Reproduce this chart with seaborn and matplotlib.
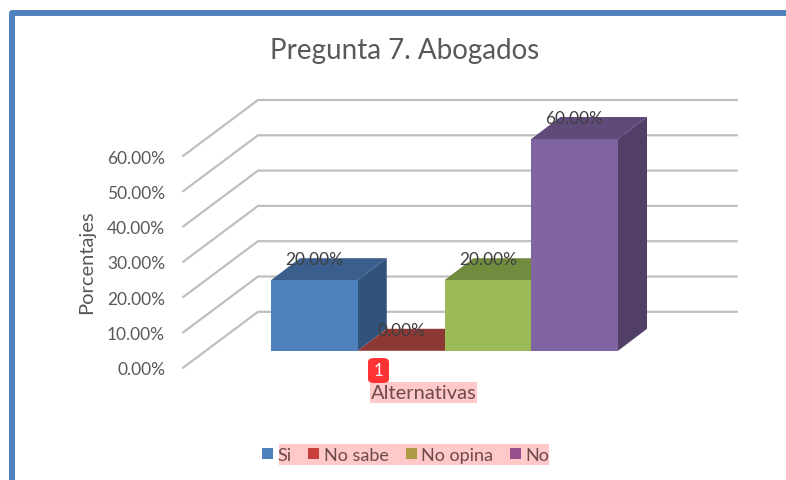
import matplotlib
matplotlib.use("Agg")
import matplotlib.pyplot as plt
from matplotlib.patches import Patch, Polygon, Rectangle, FancyBboxPatch
from matplotlib.transforms import ScaledTranslation
import pandas as pd
import seaborn as sns

# ---------------------------------------
# Data
# ---------------------------------------

categories = ["Si", "No sabe", "No opina", "No"]
values = [20, 0, 20, 60]
value_labels = ["20.00%", "0.00%", "20.00%", "60.00%"]
y_ticks = [0, 10, 20, 30, 40, 50, 60]
y_tick_labels = ["0.00%", "10.00%", "20.00%", "30.00%", "40.00%", "50.00%", "60.00%"]

front_colors = ["#4F81BD", "#943634", "#9BBB59", "#8064A2"]
top_colors = ["#3A5F8C", "#8E3835", "#728C3F", "#5F4A7A"]
side_colors = ["#30527B", "#7A2E2C", "#5F7535", "#523F68"]
legend_colors = ["#4F81BD", "#C8403C", "#AD9A45", "#974F8C"]

W, H = 786, 481
TEXT = "#595959"
GRID = "#BFBFBF"

sns.set_theme(style="white")
plt.rcParams["font.family"] = ["Lato", "DejaVu Sans"]

fig = plt.figure(figsize=(W / 100, H / 100), dpi=100, facecolor="white")

# axes cover exactly the front faces of the bars
left, right, top, bottom = 271, 618, 140, 351.8
ax = fig.add_axes([left / W, 1 - bottom / H, (right - left) / W, (bottom - top) / H])
ax.patch.set_alpha(0)

df = pd.DataFrame({"cat": categories, "val": values})
sns.barplot(data=df, x="cat", y="val", hue="cat", palette=front_colors,
            width=1, saturation=1, legend=False, ax=ax)
ax.set_xlim(-0.5, 3.5)
ax.set_ylim(0, 60)
sns.despine(ax=ax, left=True, bottom=True)

px_x = 4 / (right - left)
px_y = 60 / (bottom - top)

# ---------------------------------------
# Walls
# ---------------------------------------

for t in y_ticks:
    yb = t + 39 * px_y
    yf = t - 17 * px_y
    xb0 = -0.5 - 13 * px_x
    xb1 = -0.5 + 466 * px_x
    xf = -0.5 - 88 * px_x
    ax.plot([xf, xb0, xb1], [yf, yb, yb], color=GRID, lw=1.6, zorder=0.5,
            clip_on=False, solid_joinstyle="miter")

# ---------------------------------------
# 3D faces
# ---------------------------------------

dx = 29 * px_x
dy = 22 * px_y
bars = list(ax.patches)
for i, bar in enumerate(bars):
    x0 = bar.get_x()
    x1 = x0 + bar.get_width()
    h = bar.get_height()
    z = 1 + i * 0.1
    bar.set_zorder(z + 0.05)
    bar.set_edgecolor("none")
    ax.add_patch(Polygon([(x0, h), (x1, h), (x1 + dx, h + dy), (x0 + dx, h + dy)],
                         fc=top_colors[i], ec="none", zorder=z, clip_on=False))
    ax.add_patch(Polygon([(x1, 0), (x1 + dx, dy), (x1 + dx, h + dy), (x1, h)],
                         fc=side_colors[i], ec="none", zorder=z, clip_on=False))
    ax.text(x0 + bar.get_width() / 2, h + 21 * px_y, value_labels[i], ha="center", va="center",
            fontsize=12.5, color="#404040", zorder=10, clip_on=False)

# ---------------------------------------
# Axis text
# ---------------------------------------

ax.set_yticks(y_ticks)
ax.set_yticklabels(y_tick_labels, fontsize=12.5, color=TEXT)
ax.tick_params(axis="y", length=0, pad=(left - 165) * 0.72)
tick_shift = ScaledTranslation(0, -17 / 100, fig.dpi_scale_trans)
for lab in ax.get_yticklabels():
    lab.set_transform(lab.get_transform() + tick_shift)
ax.set_xticks([])
ax.set_xlabel("")
ax.set_ylabel("")

fig.text(87 / W, 1 - 262 / H, "Porcentajes", rotation=90, ha="center", va="center",
         fontsize=14.5, color=TEXT)
fig.text(404.5 / W, 1 - 51 / H, "Pregunta 7. Abogados", ha="center", va="center",
         fontsize=20, color=TEXT)

# pink highlight and badge
fig.add_artist(Rectangle((370 / W, 1 - 404 / H), 107 / W, 21 / H, transform=fig.transFigure,
                         fc="#FFC9C9", ec="none"))
fig.text(424 / W, 1 - 393.5 / H, "Alternativas", ha="center", va="center",
         fontsize=14.5, color="#6E4A4A")
fig.add_artist(FancyBboxPatch((368 / W, 1 - 384 / H), 21 / W, 25 / H, transform=fig.transFigure,
                              boxstyle="round,pad=0,rounding_size=0.008", fc="#FF3333", ec="none"))
fig.text(378.5 / W, 1 - 371.5 / H, "1", ha="center", va="center", fontsize=12, color="white")

# ---------------------------------------
# Legend
# ---------------------------------------

fig.add_artist(Rectangle((279 / W, 1 - 465.5 / H), 270 / W, 21 / H, transform=fig.transFigure,
                         fc="#FFC9C9", ec="none"))
handles = [Patch(fc=c, ec="none", label=n) for c, n in zip(legend_colors, categories)]
leg = fig.legend(handles=handles, ncol=4, loc="center", bbox_to_anchor=(405.5 / W, 1 - 456 / H),
                 frameon=False, fontsize=13, handlelength=0.62, handleheight=0.62,
                 handletextpad=0.24, columnspacing=0.94, labelcolor="#6E4A4A")

# outer frame
fig.add_artist(Rectangle((12 / W, -0.1), 1.1, 1 - 14 / H + 0.1, transform=fig.transFigure,
                         fc="none", ec="#4F81BD", lw=4.3, joinstyle="round"))

plt.savefig("out.png", dpi=100)
